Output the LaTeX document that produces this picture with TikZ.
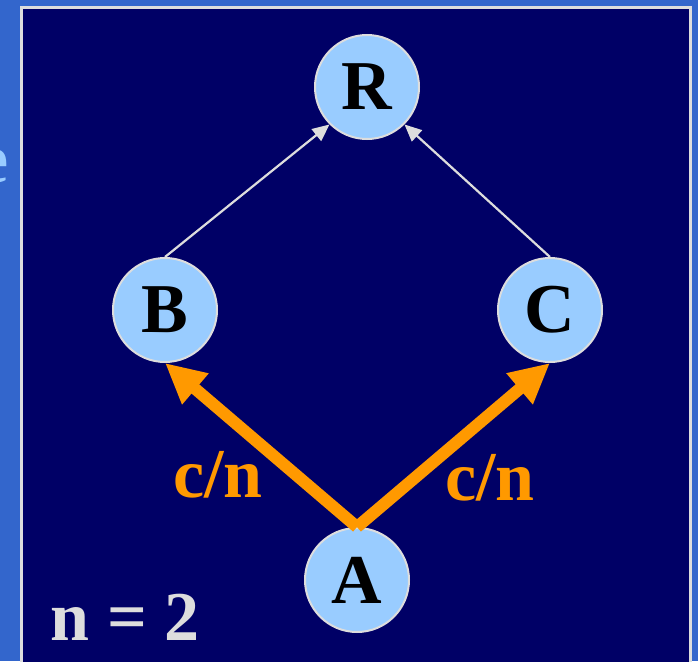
\documentclass[tikz,border=0pt]{standalone}
\usepackage{fontspec}
\setmainfont{Liberation Serif}
\usetikzlibrary{arrows.meta}

\definecolor{slidebg}{HTML}{3366CC}
\definecolor{panelbg}{HTML}{000066}
\definecolor{rim}{HTML}{DDDDDD}
\definecolor{bubble}{HTML}{99CCFF}
\definecolor{flow}{HTML}{FF9900}

\begin{document}
\begin{tikzpicture}[
    x=1pt, y=-1pt,
    every node/.style={font=\fontsize{70}{70}\selectfont\bfseries},
    vtx/.style={circle, draw=rim, line width=2pt, fill=bubble,
      minimum size=104pt, inner sep=0pt, text=black},
    link/.style={-{Triangle[length=17pt, width=15pt]}, rim, line width=2.2pt},
    push/.style={-{Triangle[length=40pt, width=38pt]}, flow, line width=12pt},
  ]
  \useasboundingbox (0,0) rectangle (698,661);
  \clip (0,0) rectangle (698,661);
  \fill[slidebg] (0,0) rectangle (698,661);
  \draw[rim, line width=3pt, fill=panelbg] (21.5,7.5) rectangle (690,700);

  % cut-off letter at the left edge
  \node[anchor=base east, inner sep=0pt, text=bubble] (cut) at (9,182) {e};

  \node[vtx] (R) at (367,87) {R};
  \node[vtx] (B) at (165,310) {B};
  \node[vtx] (C) at (550,310) {C};
  \node[vtx] (A) at (357,580) {A};

  \draw[link] (B.north) -- (R.225);
  \draw[link] (C.north) -- (R.315);

  \draw[push] (A.north) -- (B.south);
  \draw[push] (A.north) -- (C.south);

  \node[text=flow] (cnl) at (218,475) {c/n};
  \node[text=flow] (cnr) at (490,478) {c/n};

  \node[text=rim] (nval) at (125,617) {n = 2};
\end{tikzpicture}
\end{document}
